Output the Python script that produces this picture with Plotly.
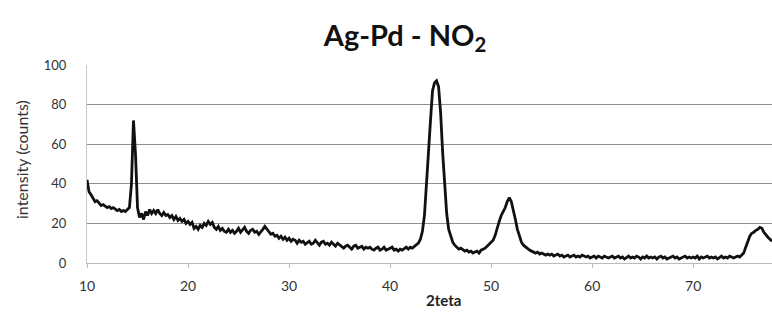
import plotly.graph_objects as go

# Diffraction scan: 2-theta angles (degrees), sampled every 0.2 deg
two_theta = [
    10.0, 10.2, 10.4, 10.6, 10.8, 11.0, 11.2, 11.4, 11.6, 11.8,
    12.0, 12.2, 12.4, 12.6, 12.8, 13.0, 13.2, 13.4, 13.6, 13.8,
    14.0, 14.2, 14.4, 14.6, 14.8, 15.0, 15.2, 15.4, 15.6, 15.8,
    16.0, 16.2, 16.4, 16.6, 16.8, 17.0, 17.2, 17.4, 17.6, 17.8,
    18.0, 18.2, 18.4, 18.6, 18.8, 19.0, 19.2, 19.4, 19.6, 19.8,
    20.0, 20.2, 20.4, 20.6, 20.8, 21.0, 21.2, 21.4, 21.6, 21.8,
    22.0, 22.2, 22.4, 22.6, 22.8, 23.0, 23.2, 23.4, 23.6, 23.8,
    24.0, 24.2, 24.4, 24.6, 24.8, 25.0, 25.2, 25.4, 25.6, 25.8,
    26.0, 26.2, 26.4, 26.6, 26.8, 27.0, 27.2, 27.4, 27.6, 27.8,
    28.0, 28.2, 28.4, 28.6, 28.8, 29.0, 29.2, 29.4, 29.6, 29.8,
    30.0, 30.2, 30.4, 30.6, 30.8, 31.0, 31.2, 31.4, 31.6, 31.8,
    32.0, 32.2, 32.4, 32.6, 32.8, 33.0, 33.2, 33.4, 33.6, 33.8,
    34.0, 34.2, 34.4, 34.6, 34.8, 35.0, 35.2, 35.4, 35.6, 35.8,
    36.0, 36.2, 36.4, 36.6, 36.8, 37.0, 37.2, 37.4, 37.6, 37.8,
    38.0, 38.2, 38.4, 38.6, 38.8, 39.0, 39.2, 39.4, 39.6, 39.8,
    40.0, 40.2, 40.4, 40.6, 40.8, 41.0, 41.2, 41.4, 41.6, 41.8,
    42.0, 42.2, 42.4, 42.6, 42.8, 43.0, 43.2, 43.4, 43.6, 43.8,
    44.0, 44.2, 44.4, 44.6, 44.8, 45.0, 45.2, 45.4, 45.6, 45.8,
    46.0, 46.2, 46.4, 46.6, 46.8, 47.0, 47.2, 47.4, 47.6, 47.8,
    48.0, 48.2, 48.4, 48.6, 48.8, 49.0, 49.2, 49.4, 49.6, 49.8,
    50.0, 50.2, 50.4, 50.6, 50.8, 51.0, 51.2, 51.4, 51.6, 51.8,
    52.0, 52.2, 52.4, 52.6, 52.8, 53.0, 53.2, 53.4, 53.6, 53.8,
    54.0, 54.2, 54.4, 54.6, 54.8, 55.0, 55.2, 55.4, 55.6, 55.8,
    56.0, 56.2, 56.4, 56.6, 56.8, 57.0, 57.2, 57.4, 57.6, 57.8,
    58.0, 58.2, 58.4, 58.6, 58.8, 59.0, 59.2, 59.4, 59.6, 59.8,
    60.0, 60.2, 60.4, 60.6, 60.8, 61.0, 61.2, 61.4, 61.6, 61.8,
    62.0, 62.2, 62.4, 62.6, 62.8, 63.0, 63.2, 63.4, 63.6, 63.8,
    64.0, 64.2, 64.4, 64.6, 64.8, 65.0, 65.2, 65.4, 65.6, 65.8,
    66.0, 66.2, 66.4, 66.6, 66.8, 67.0, 67.2, 67.4, 67.6, 67.8,
    68.0, 68.2, 68.4, 68.6, 68.8, 69.0, 69.2, 69.4, 69.6, 69.8,
    70.0, 70.2, 70.4, 70.6, 70.8, 71.0, 71.2, 71.4, 71.6, 71.8,
    72.0, 72.2, 72.4, 72.6, 72.8, 73.0, 73.2, 73.4, 73.6, 73.8,
    74.0, 74.2, 74.4, 74.6, 74.8, 75.0, 75.2, 75.4, 75.6, 75.8,
    76.0, 76.2, 76.4, 76.6, 76.8, 77.0, 77.2, 77.4, 77.6, 77.8,
]

# Measured intensity (counts) at each angle above
counts = [
    42, 36, 34.5, 33, 31, 31.5, 30, 29, 29.5, 28.5,
    28, 28.5, 27.5, 28, 27, 26.5, 27, 26, 26.5, 26,
    27, 28, 40, 72, 55, 28, 23, 25, 22, 26,
    24, 27, 25, 26.5, 25, 27, 25, 24, 25.5, 24,
    24.5, 23, 24, 22, 23.5, 21.5, 22.5, 21, 22, 20,
    21, 19.5, 20.5, 17.5, 18.5, 17, 19, 18, 20, 19,
    21, 19.5, 20.5, 18, 17, 18.5, 16.5, 17.5, 16, 15.5,
    17, 15.5, 16.5, 15, 16, 17.5, 15.5, 16.5, 18, 16,
    15, 16.5, 17, 15.5, 16, 14.5, 15.5, 17, 18.5, 17,
    16, 14.5, 15, 13.5, 14, 12.5, 13.5, 12, 13, 11.5,
    12.5, 11, 12, 11.5, 10, 11.5, 10.5, 11, 9.5, 10.5,
    11, 9.5, 10, 11.5, 10, 9, 10.5, 11, 9.5, 10,
    9, 10.5, 9.5, 8.5, 10, 9, 8, 7.5, 8.5, 9,
    8, 7, 8.5, 9, 7.5, 8, 8.5, 7, 8, 7.5,
    8, 7, 6.5, 7.5, 8, 6.5, 7, 8, 6.5, 7,
    7.5, 8, 6.5, 7, 6, 7, 6.5, 7.5, 8, 7,
    8, 7.5, 8.5, 9, 10, 12, 16, 24, 38, 56,
    72, 87, 91, 92, 89, 76, 56, 38, 25, 17,
    13, 10.5, 9, 8, 7, 7.5, 6.5, 6, 6.5, 5.5,
    6, 5, 5.5, 6, 5, 6.5, 7, 7.5, 8.5, 9.5,
    10, 11.5, 14, 18, 21, 24, 26, 28, 31, 33,
    31, 27, 22, 17, 13, 10.5, 9, 8, 7, 6.5,
    6, 5.5, 5, 5.5, 4.5, 5, 4.5, 4, 4.5, 4,
    4.5, 3.5, 4, 4.5, 3.5, 4, 3, 3.5, 4, 3,
    3.5, 4, 3, 3.5, 3, 4, 3.5, 3, 3.5, 2.5,
    3, 3.5, 2.5, 3.5, 3, 2.5, 3.5, 3, 2.5, 3,
    3.5, 2.5, 3, 3.5, 2.5, 3, 2, 3, 3.5, 2.5,
    3, 2.5, 3.5, 3, 2, 3, 2.5, 3.5, 2.5, 3,
    2.5, 3, 2, 3, 3.5, 2.5, 3, 2, 2.5, 3,
    3.5, 2.5, 3, 2, 2.5, 3, 3.5, 2.5, 3, 2.5,
    3, 2.5, 3.5, 2, 3, 2.5, 3, 3.5, 2.5, 3,
    2.5, 3, 2, 3, 3.5, 2.5, 3, 2.5, 3.5, 3,
    2.5, 3, 3.5, 3, 4, 5, 8, 11, 13.5, 15,
    15.5, 16.5, 17, 18, 17.5, 15.5, 14, 13, 12, 11,
]

x_ticks = [10, 20, 30, 40, 50, 60, 70]
y_ticks = [0, 20, 40, 60, 80, 100]

FONT = "Lato, 'Open Sans', sans-serif"

# plot area in pixels (left, right, top, bottom)
W, H = 772, 320
L, R, T, B = 87, 0, 65, 57
plot_w = W - L - R
plot_h = H - T - B


def paper_x(px):
    return (px - L) / plot_w


def paper_y(py):
    return (H - B - py) / plot_h


fig = go.Figure(
    go.Scatter(
        x=two_theta,
        y=counts,
        mode="lines",
        line=dict(color="#111111", width=2.8),
        hoverinfo="x+y",
    )
)

fig.update_layout(
    width=W,
    height=H,
    margin=dict(l=L, r=R, t=T, b=B),
    paper_bgcolor="white",
    plot_bgcolor="white",
    showlegend=False,
    font=dict(family=FONT, color="#333333"),
    title=dict(
        text="<b>Ag-Pd - NO<sub>2</sub></b>",
        font=dict(family=FONT, size=29, color="#111111"),
        x=405 / W,
        xref="container",
        xanchor="center",
        y=1 - 36 / H,
        yref="container",
        yanchor="middle",
    ),
    xaxis=dict(
        range=[10, 77.8],
        tickvals=x_ticks,
        ticktext=[str(v) for v in x_ticks],
        tickfont=dict(size=14, color="#333333"),
        showgrid=False,
        zeroline=False,
        showline=True,
        linecolor="#bbbbbb",
        linewidth=1,
        ticks="outside",
        ticklen=4,
        tickcolor="#bbbbbb",
        ticklabelstandoff=6,
    ),
    yaxis=dict(
        range=[0, 100],
        tickvals=y_ticks,
        ticktext=[str(v) for v in y_ticks],
        tickfont=dict(size=13, color="#333333"),
        showgrid=True,
        gridcolor="#8f8f8f",
        gridwidth=1,
        zeroline=False,
        showline=True,
        linecolor="#c8c8c8",
        linewidth=1,
        ticks="",
        ticklabelstandoff=17,
    ),
    annotations=[
        dict(
            text="<b>2teta</b>",
            x=paper_x(443),
            y=paper_y(300),
            xref="paper",
            yref="paper",
            xanchor="center",
            yanchor="middle",
            showarrow=False,
            font=dict(family=FONT, size=15, color="#222222"),
        ),
        dict(
            text="intensity (counts)",
            x=paper_x(21),
            y=paper_y(160),
            xref="paper",
            yref="paper",
            xanchor="center",
            yanchor="middle",
            textangle=-90,
            showarrow=False,
            font=dict(family=FONT, size=16, color="#333333"),
        ),
    ],
)

fig.write_html("out.html")
